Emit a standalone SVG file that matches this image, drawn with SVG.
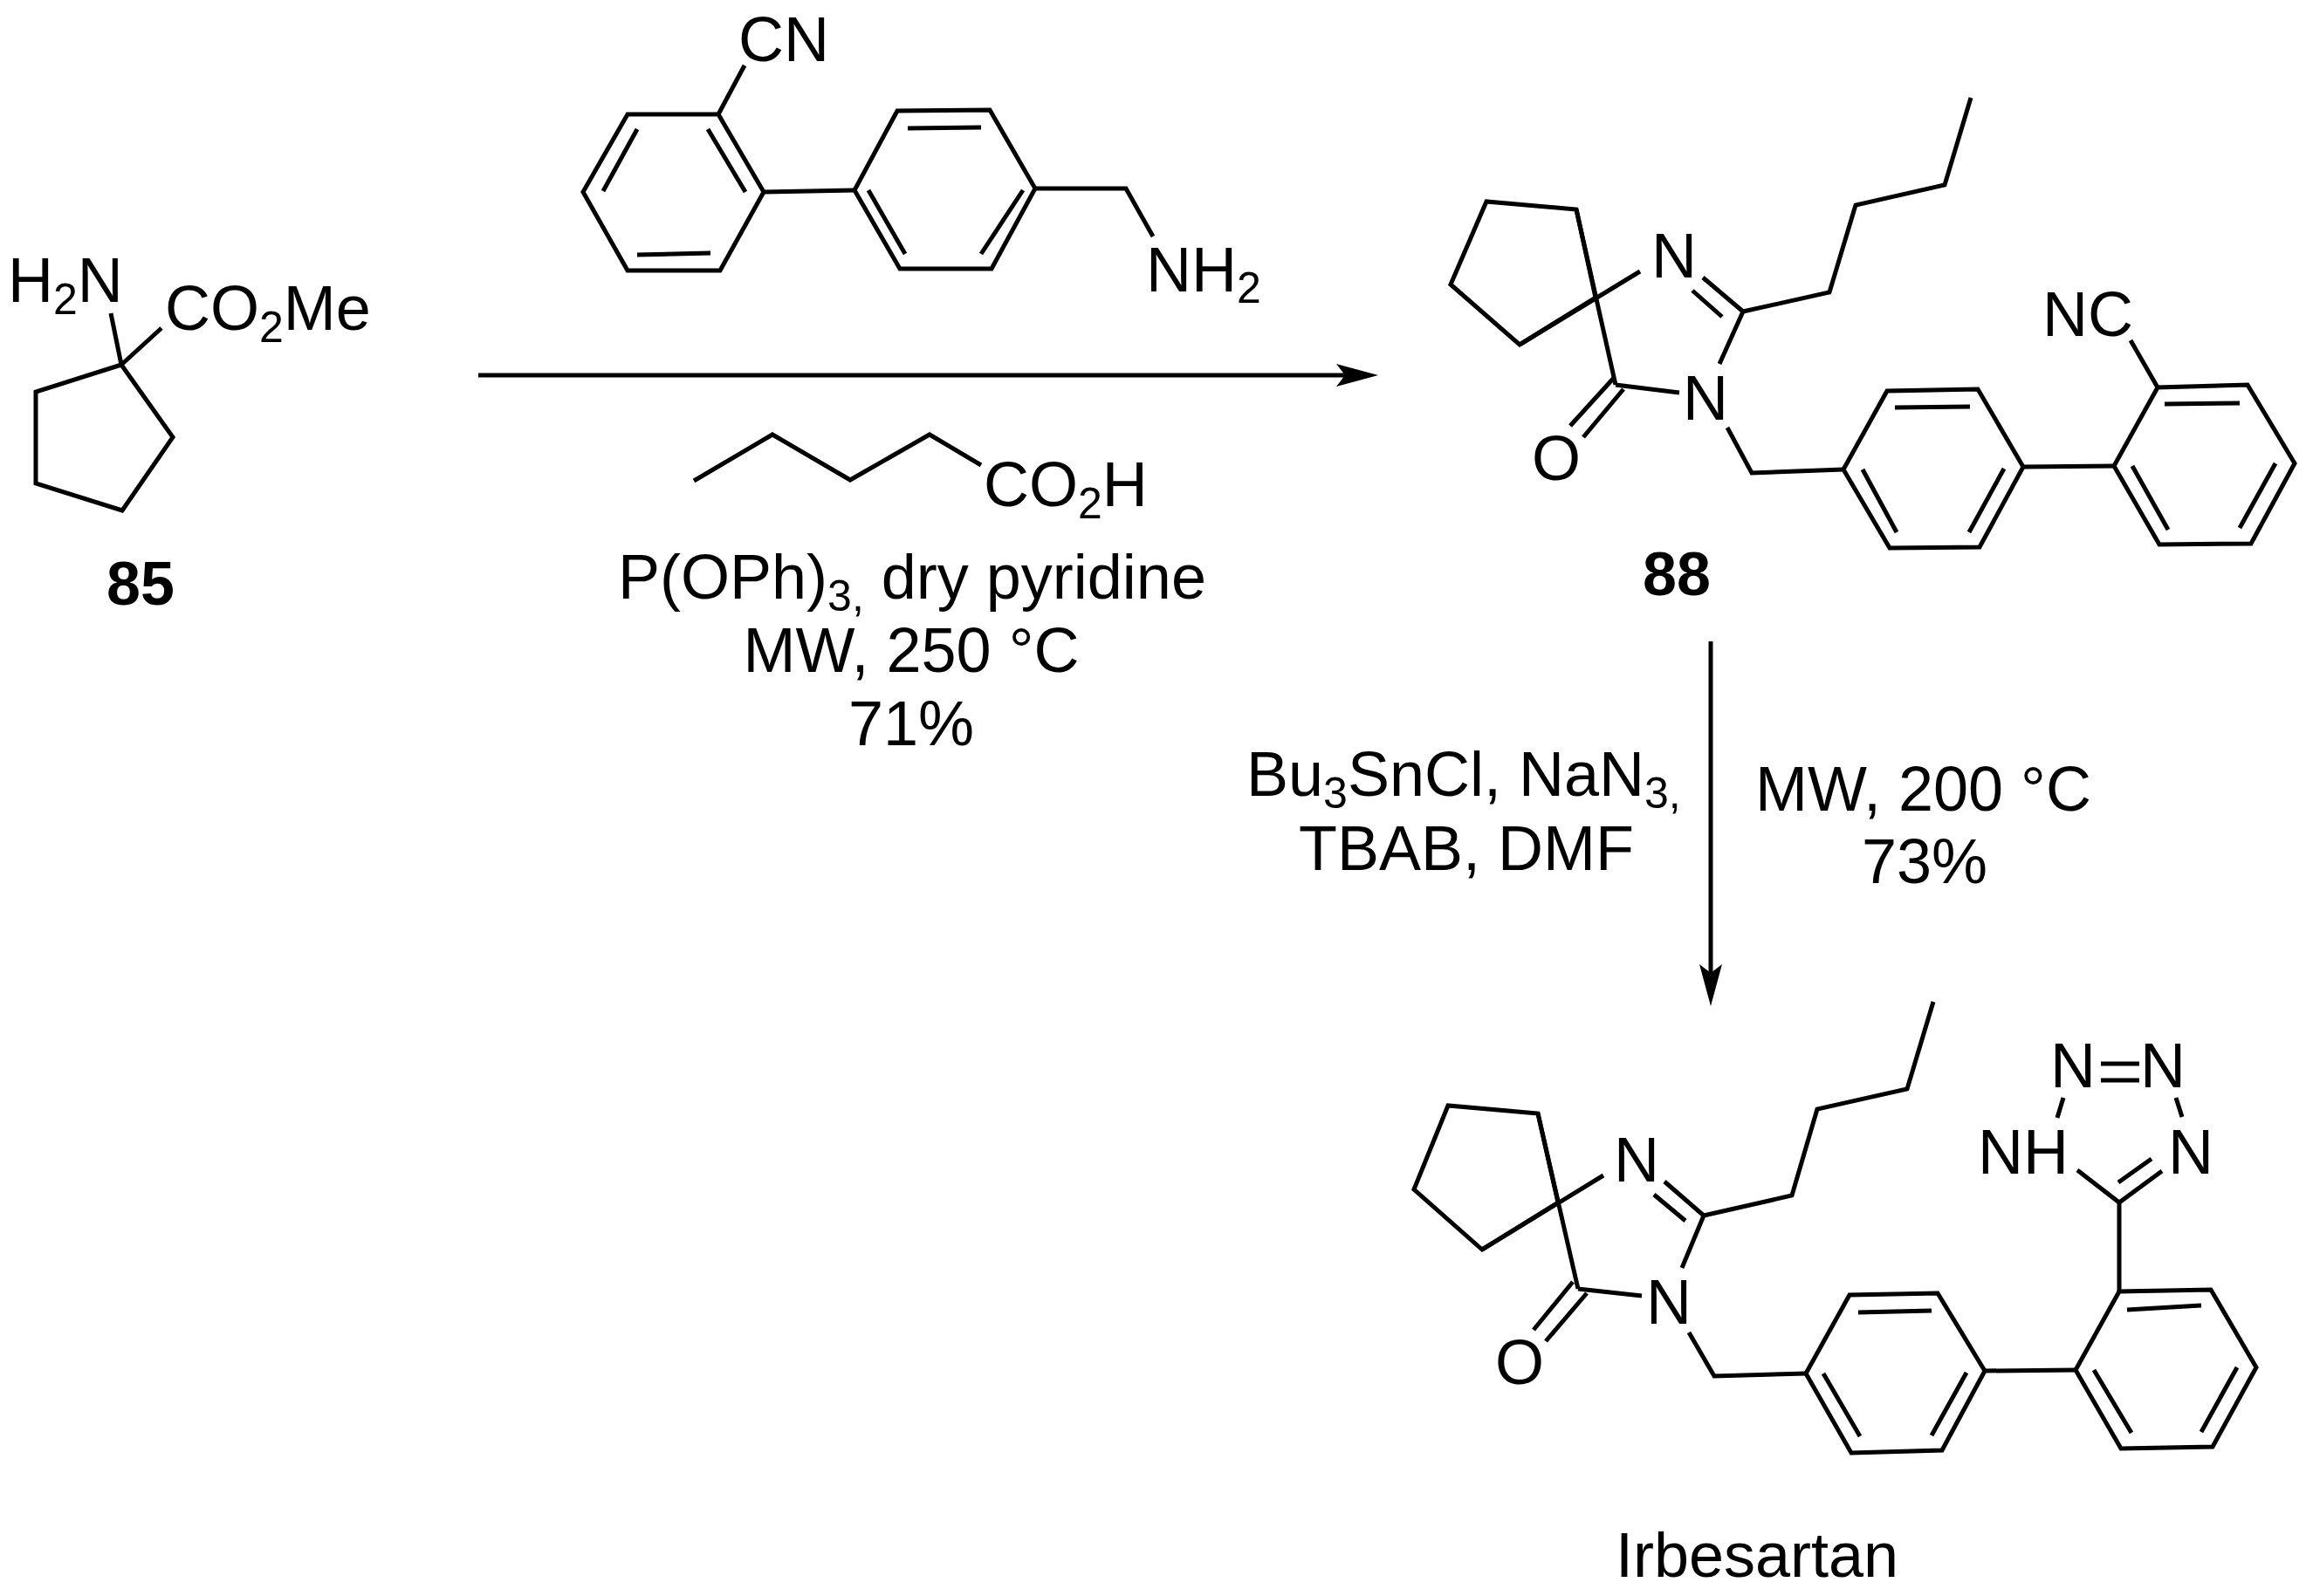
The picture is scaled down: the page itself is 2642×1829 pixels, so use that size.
<svg xmlns="http://www.w3.org/2000/svg" width="2642" height="1829" viewBox="0 0 2642 1829">
<defs>
<style>
.bg{fill:#ffffff}
.b{fill:none;stroke:#000;stroke-width:5;stroke-linejoin:miter;stroke-linecap:butt}
.a{fill:none;stroke:#000;stroke-width:5}
text{font-family:"Liberation Sans",Arial,sans-serif;font-size:72px;fill:#000}
.bold{font-weight:bold;font-size:70px}
.m{text-anchor:middle}
.s{font-size:50px}
</style>
<marker id="head" markerUnits="userSpaceOnUse" markerWidth="52" markerHeight="30" refX="10" refY="14" orient="auto">
<path d="M0,1 L48,14 L0,27 L10,14 z" fill="#000"/>
</marker>
</defs>
<rect class="bg" width="2642" height="1829"/>
<g id="connectors">
<path class="a" d="M548,430 H1541" marker-end="url(#head)"/>
<path class="a" d="M1960,735 V1115" marker-end="url(#head)"/>
</g>
<g id="compound-85">
<path class="b" d="M139,418 L198,501 L140,585 L41,554 L41,449 Z"/>
<path class="b" d="M139,418 L127,359 M139,418 L185,376"/>
<text x="9" y="346">H<tspan class="s" dy="14">2</tspan><tspan dy="-14">N</tspan></text>
<text x="189" y="378">CO<tspan class="s" dy="14">2</tspan><tspan dy="-14">Me</tspan></text>
<text class="bold m" x="161" y="693">85</text>
</g>
<g id="reagent-amine">
<path class="b" d="M823,131 L875,220 L825,310 L719,310 L668,220 L719,131 Z"/>
<path class="b" d="M811,148 L854,220 M730,148 L691,219 M730,292 L814,290"/>
<path class="b" d="M979,218 L1028,127 L1134,126 L1186,216 L1136,308 L1031,308 Z"/>
<path class="b" d="M1040,147 L1124,146 M995,218 L1037,291 M1172,218 L1124,291"/>
<path class="b" d="M875,220 L979,218 M823,131 L853,75 M1186,216 L1290,216 L1321,271"/>
<text x="846" y="70">CN</text>
<text x="1313" y="334">NH<tspan class="s" dy="13">2</tspan></text>
</g>
<g id="reagent-acid">
<path class="b" d="M795,551 L885,498 L974,550 L1065,498 L1124,533"/>
<text x="1127" y="580">CO<tspan class="s" dy="14">2</tspan><tspan dy="-14">H</tspan></text>
</g>
<g id="conditions-1">
<text class="m" x="1045" y="686">P(OPh)<tspan class="s" dy="14">3,</tspan><tspan dy="-14"> dry pyridine</tspan></text>
<text class="m" x="1044" y="770">MW, 250 °C</text>
<text class="m" x="1044" y="854">71%</text>
</g>
<g id="compound-88">
<path class="b" d="M1828,341 L1806,240 L1703,231 L1662,326 L1741,395 L1828,341"/>
<path class="b" d="M1806,240 L1851,441 M1741,395 L1879,311"/>
<path class="b" d="M1849,433 L1799,488 M1860,446 L1814,501 M1851,441 L1924,450"/>
<path class="b" d="M1951,318 L1997,357 L1970,417 M1939,333 L1973,363"/>
<path class="b" d="M1997,357 L2096,335 L2126,235 L2228,212 L2258,112"/>
<path class="b" d="M1979,490 L2007,542 L2112,538"/>
<path class="b" d="M2112,538 L2162,448 L2266,446 L2318,535 L2268,627 L2165,628 Z"/>
<path class="b" d="M2171,467 L2257,466 M2134,538 L2173,610 M2296,537 L2256,610"/>
<path class="b" d="M2318,535 L2422,534"/>
<path class="b" d="M2422,534 L2472,444 L2575,441 L2629,531 L2579,623 L2474,624 Z"/>
<path class="b" d="M2480,463 L2566,462 M2443,534 L2484,607 M2607,531 L2566,605 M2472,444 L2441,390"/>
<text x="1892" y="318">N</text>
<text x="1928" y="481">N</text>
<text x="1755" y="550">O</text>
<text x="2340" y="385">NC</text>
<text class="bold m" x="1921" y="682">88</text>
</g>
<g id="conditions-2">
<text x="1428" y="912">Bu<tspan class="s" dy="14">3</tspan><tspan dy="-14">SnCl, NaN</tspan><tspan class="s" dy="14">3,</tspan></text>
<text x="1488" y="997">TBAB, DMF</text>
<text x="2011" y="929">MW, 200 °C</text>
<text class="m" x="2205" y="1012">73%</text>
</g>
<g id="irbesartan">
<path class="b" d="M1785,1378 L1762,1276 L1659,1267 L1620,1363 L1698,1432 L1785,1378"/>
<path class="b" d="M1762,1276 L1808,1477 M1698,1432 L1837,1347"/>
<path class="b" d="M1802,1469 L1757,1524 M1818,1482 L1771,1537 M1808,1477 L1881,1485"/>
<path class="b" d="M1907,1354 L1952,1393 L1927,1453 M1895,1369 L1931,1399"/>
<path class="b" d="M1952,1393 L2053,1370 L2082,1271 L2185,1248 L2215,1148"/>
<path class="b" d="M1935,1527 L1964,1577 L2069,1574"/>
<path class="b" d="M2069,1574 L2119,1484 L2220,1482 L2274,1571 L2225,1662 L2121,1665 Z"/>
<path class="b" d="M2129,1504 L2213,1502 M2089,1574 L2131,1646 M2253,1573 L2213,1645"/>
<path class="b" d="M2274,1571 L2378,1570"/>
<path class="b" d="M2378,1570 L2428,1480 L2533,1478 L2585,1567 L2535,1658 L2430,1660 Z"/>
<path class="b" d="M2437,1501 L2522,1496 M2399,1570 L2442,1642 M2563,1567 L2522,1641"/>
<path class="b" d="M2428,1480 V1378 M2380,1341 L2428,1378 L2477,1342 M2427,1355 L2465,1328"/>
<path class="b" d="M2407,1219 H2451 M2407,1238 H2451 M2364,1258 L2357,1281 M2493,1258 L2500,1280"/>
<text x="1849" y="1354">N</text>
<text x="1886" y="1517">N</text>
<text x="1713" y="1586">O</text>
<text x="2266" y="1345">NH</text>
<text x="2484" y="1345">N</text>
<text x="2349" y="1246">N</text>
<text x="2452" y="1246">N</text>
<text class="m" x="2013" y="1807">Irbesartan</text>
</g>
</svg>
